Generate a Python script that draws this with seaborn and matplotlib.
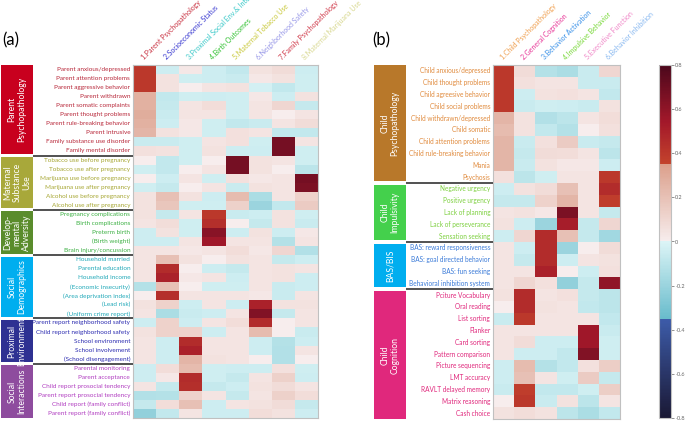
import matplotlib.pyplot as plt
import matplotlib.patches as mpatches
from matplotlib.colors import LinearSegmentedColormap
import numpy as np
import pandas as pd
import seaborn as sns

# ---- panel (a) data ----
a_headers = ["1.Parent Psychopathology", "2.Socioeconomic Status", "3.Proximal Social Env.& Inter.",
             "4.Birth Outcomes", "5.Maternal Tobacco Use", "6.Neighborhood Safety",
             "7.Family Psychopathology", "8.Maternal Marijuana Use"]
a_header_colors = ["#c83040", "#3838d0", "#38c8c8", "#30c030", "#c8c838", "#9898e8", "#d03848", "#d8d890"]

a_groups = ["Parent\nPsychopathology", "Maternal\nSubstance\nUse", "Develop-\nmental\nAdversity",
            "Social\nDemographics", "Proximal\nEnvironment", "Social\nInteractions"]
a_box_colors = ["#c8001e", "#a8a83a", "#5a8c2c", "#00aeef", "#2e3192", "#8e4c9e"]
a_text_colors = ["#b8283a", "#a6a632", "#3cb043", "#20a8b8", "#2b2bb0", "#b03cc0"]

a_parent_rows = ["Parent anxious/depressed", "Parent attention problems", "Parent aggressive behavior",
                 "Parent withdrawn", "Parent somatic complaints", "Parent thought problems",
                 "Parent rule-breaking behavior", "Parent intrusive", "Family substance use disorder",
                 "Family mental disorder"]
a_parent_vals = [[0.40, -0.05, 0.03, -0.05, -0.08, 0.05, 0.08, -0.05],
                 [0.40, 0.05, -0.04, -0.05, -0.06, 0.03, 0.05, -0.04],
                 [0.40, 0.05, 0.00, 0.04, 0.05, -0.03, -0.08, -0.04],
                 [0.27, -0.08, -0.04, -0.05, -0.04, 0.03, -0.05, 0.05],
                 [0.27, -0.07, 0.04, 0.07, -0.04, 0.04, 0.10, -0.07],
                 [0.29, -0.06, 0.04, 0.04, -0.04, 0.04, 0.00, 0.04],
                 [0.27, -0.05, 0.03, -0.04, -0.08, -0.06, 0.04, 0.08],
                 [0.25, 0.05, 0.03, -0.04, 0.06, 0.04, -0.08, -0.08],
                 [-0.06, -0.06, -0.04, 0.04, 0.06, -0.04, 0.68, 0.04],
                 [0.06, 0.05, -0.04, 0.05, -0.05, -0.05, 0.68, -0.04]]

a_maternal_rows = ["Tobacco use before pregnancy", "Tobacco use after pregnancy",
                   "Marijuana use before pregnancy", "Marijuana use after pregnancy",
                   "Alcohol use before pregnancy", "Alcohol use after pregnancy"]
a_maternal_vals = [[0.00, -0.08, -0.04, 0.00, 0.68, 0.05, 0.04, -0.04],
                   [-0.04, -0.08, 0.00, 0.04, 0.68, 0.05, 0.00, -0.10],
                   [0.00, -0.05, 0.04, -0.04, 0.06, 0.03, 0.04, 0.68],
                   [-0.04, -0.07, 0.00, 0.04, -0.06, 0.05, 0.04, 0.66],
                   [0.05, 0.20, 0.05, -0.05, 0.22, -0.15, 0.04, 0.12],
                   [0.05, 0.18, -0.04, -0.04, 0.13, -0.20, -0.08, 0.15]]

a_dev_rows = ["Pregnancy complications", "Birth complications", "Preterm birth",
              "(Birth weight)", "Brain injury/concussion"]
a_dev_vals = [[0.05, -0.07, 0.04, 0.40, -0.06, -0.05, 0.05, -0.04],
              [0.04, 0.07, -0.04, 0.44, 0.00, -0.07, 0.05, -0.06],
              [-0.05, 0.05, -0.04, 0.62, -0.05, 0.05, -0.05, 0.03],
              [-0.05, -0.05, 0.04, 0.55, 0.04, 0.04, -0.12, 0.04],
              [0.04, 0.04, 0.03, 0.04, 0.07, 0.03, 0.10, -0.13]]

a_demo_rows = ["Household married", "Parental education", "Household income",
               "(Economic insecurity)", "(Area deprivation index)", "(Lead risk)",
               "(Uniform crime report)"]
a_demo_vals = [[0.04, 0.20, 0.05, 0.00, 0.05, 0.04, -0.07, -0.05],
               [0.04, 0.45, 0.00, -0.05, -0.07, 0.04, 0.05, 0.04],
               [0.04, 0.50, 0.03, 0.04, -0.05, 0.04, 0.05, -0.05],
               [-0.12, 0.20, 0.00, -0.04, -0.04, 0.04, -0.06, -0.05],
               [0.00, 0.44, 0.04, 0.04, 0.04, 0.03, -0.06, 0.04],
               [0.05, 0.12, -0.05, 0.04, -0.05, 0.50, 0.05, 0.05],
               [0.04, -0.15, -0.06, -0.05, 0.04, 0.64, -0.07, 0.04]]

a_prox_rows = ["Parent report neighborhood safety", "Child report neighborhood safety",
               "School environment", "School involvement", "(School disengagement)"]
a_prox_vals = [[-0.05, 0.12, -0.05, 0.04, 0.07, 0.46, 0.00, 0.04],
               [0.05, 0.12, 0.12, -0.05, 0.04, 0.22, 0.00, -0.06],
               [0.04, -0.05, 0.45, 0.04, 0.04, -0.05, -0.12, -0.05],
               [0.04, -0.05, 0.50, 0.04, 0.04, -0.05, -0.13, 0.04],
               [0.04, -0.05, 0.25, 0.05, 0.04, 0.00, -0.13, 0.00]]

a_social_rows = ["Parental monitoring", "Parent acceptance", "Child report prosocial tendency",
                 "Parent report prosocial tendency", "Child report (family conflict)",
                 "Parent report (family conflict)"]
a_social_vals = [[-0.05, 0.07, 0.22, -0.04, -0.05, -0.05, 0.06, -0.04],
                 [-0.05, 0.03, 0.45, -0.04, -0.07, 0.04, 0.13, -0.05],
                 [0.04, -0.07, 0.44, -0.07, -0.05, 0.05, 0.08, 0.04],
                 [-0.13, -0.12, 0.12, 0.04, -0.07, 0.04, 0.13, 0.07],
                 [-0.07, 0.07, 0.20, -0.05, 0.04, 0.05, 0.08, -0.07],
                 [-0.22, -0.08, 0.04, -0.05, -0.05, 0.07, 0.05, -0.05]]

# ---- panel (b) data ----
b_headers = ["1.Child Psychopathology", "2.General Cognition", "3.Behavior Activation",
             "4.Impulsive Behavior", "5.Executive Function", "6.Behavior Inhibition"]
b_header_colors = ["#f0a050", "#e83898", "#3890e8", "#78d838", "#f088c8", "#88b8f0"]

b_groups = ["Child\nPsychopathology", "Child\nImpulsivity", "BAS/BIS", "Child\nCognition"]
b_box_colors = ["#b8782a", "#44d04c", "#00aeef", "#e0287c"]
b_text_colors = ["#e08a3c", "#7ed040", "#3a7ad8", "#e0287c"]

b_psych_rows = ["Child anxious/depressed", "Child thought problems", "Child agreesive behavior",
                "Child social problems", "Child withdrawn/depressed", "Child somatic",
                "Child attention problems", "Child rule-breaking behavior", "Mania", "Psychosis"]
b_psych_vals = [[0.40, 0.08, -0.12, -0.15, -0.06, 0.10],
                [0.40, 0.06, 0.04, 0.04, -0.06, -0.06],
                [0.40, -0.05, 0.05, 0.06, 0.04, -0.08],
                [0.40, -0.06, -0.04, -0.05, -0.06, 0.05],
                [0.25, 0.05, -0.13, -0.10, 0.04, 0.07],
                [0.22, 0.05, -0.08, -0.12, 0.00, 0.06],
                [0.25, -0.06, 0.06, 0.15, -0.06, -0.07],
                [0.25, -0.07, 0.08, 0.07, 0.04, -0.10],
                [0.25, -0.06, 0.05, 0.03, 0.03, -0.05],
                [0.06, -0.10, -0.04, 0.04, 0.04, 0.40]]

b_imp_rows = ["Negative urgency", "Positive urgency", "Lack of planning",
              "Lack of perseverance", "Sensation seeking"]
b_imp_vals = [[-0.05, 0.05, 0.08, 0.20, 0.04, 0.45],
              [-0.07, -0.07, 0.12, 0.25, 0.04, 0.38],
              [0.04, 0.05, 0.03, 0.66, 0.04, -0.07],
              [0.05, -0.05, -0.20, 0.52, -0.07, 0.10],
              [-0.05, 0.10, 0.45, 0.20, -0.07, -0.18]]

b_bas_rows = ["BAS: reward responsiveness", "BAS: goal directed behavior", "BAS: fun seeking",
              "Behavioral inhibition system"]
b_bas_vals = [[0.04, -0.05, 0.45, -0.20, 0.00, 0.08],
              [0.04, -0.07, 0.45, -0.05, 0.04, 0.05],
              [0.04, 0.04, 0.50, 0.00, -0.05, 0.06],
              [0.04, 0.10, 0.06, -0.22, -0.07, 0.60]]

b_cog_rows = ["Pciture Vocabulary", "Oral reading", "List sorting", "Flanker", "Card sorting",
              "Pattern comparison", "Picture sequencing", "LMT accuracy",
              "RAVLT delayed memory", "Matrix reasoning", "Cash choice"]
b_cog_vals = [[0.05, 0.45, 0.04, 0.06, -0.07, -0.10],
              [0.00, 0.45, 0.05, 0.04, -0.08, -0.10],
              [-0.06, 0.40, 0.04, 0.04, 0.04, -0.08],
              [0.04, 0.04, 0.04, 0.04, 0.55, -0.06],
              [0.04, 0.08, -0.05, -0.05, 0.55, -0.04],
              [0.04, -0.05, -0.05, -0.08, 0.64, -0.04],
              [-0.05, 0.22, -0.12, -0.08, 0.06, 0.14],
              [-0.05, 0.20, 0.04, -0.04, 0.15, -0.07],
              [-0.06, 0.38, -0.08, -0.08, -0.04, 0.14],
              [0.00, 0.40, -0.06, 0.05, -0.10, 0.04],
              [0.05, 0.07, 0.05, -0.10, -0.15, -0.08]]

cbar_ticks = [-0.8, -0.6, -0.4, -0.2, 0, 0.2, 0.4, 0.6, 0.8]

# stepped diverging colormap (jump at +/-0.35)
cmap = LinearSegmentedColormap.from_list("steps", [
    (0.0, "#1a1834"), (0.2811, "#3d5caa"), (0.2813, "#68bccc"),
    (0.499, "#dcf4f6"), (0.5, "#ffffff"), (0.501, "#f7eded"),
    (0.7186, "#dca08c"), (0.7188, "#c4442c"), (0.84, "#a3182a"), (1.0, "#4c081c")])

W, H = 685, 423


def px(x0, y0, x1, y1):
    return [x0 / W, 1 - y1 / H, (x1 - x0) / W, (y1 - y0) / H]


def draw_panel(fig, hm_box, side_box, box_x, headers, header_colors,
               groups, rows_list, vals_list, box_colors, text_colors, fs):
    labels = sum(rows_list, [])
    vals = np.vstack([np.array(v) for v in vals_list])
    df = pd.DataFrame(vals, index=labels, columns=headers)
    ax = fig.add_axes(px(*hm_box))
    sns.heatmap(df, ax=ax, cmap=cmap, vmin=-0.8, vmax=0.8, cbar=False,
                xticklabels=True, yticklabels=True)
    ax.tick_params(axis="y", length=0, pad=2, labelsize=fs)
    ax.tick_params(axis="x", top=True, labeltop=True, bottom=False, labelbottom=False,
                   length=0, pad=3, labelsize=5)
    ax.set_xticklabels(headers, rotation=45, ha="left", va="bottom", rotation_mode="anchor")
    for t, c in zip(ax.get_xticklabels(), header_colors):
        t.set_color(c)
    colors = sum([[c] * len(r) for c, r in zip(text_colors, rows_list)], [])
    for t, c in zip(ax.get_yticklabels(), colors):
        t.set_color(c)
    ax.set_xlabel("")
    ax.set_ylabel("")
    for s in ax.spines.values():
        s.set_visible(True)
        s.set_color("#c0c0c0")
        s.set_linewidth(0.8)

    # group boxes + separators
    n = len(labels)
    side = fig.add_axes(px(*side_box))
    side.set_xlim(side_box[0], side_box[2])
    side.set_ylim(n, 0)
    side.axis("off")
    start = 0
    for i, (g, r) in enumerate(zip(groups, rows_list)):
        end = start + len(r)
        top = start + (0.17 if i > 0 else 0)
        bot = end - (0.17 if i < len(groups) - 1 else 0)
        side.add_patch(mpatches.Rectangle((box_x[0], top), box_x[1] - box_x[0], bot - top,
                                          color=box_colors[i], lw=0))
        side.text((box_x[0] + box_x[1]) / 2, (top + bot) / 2, g, rotation=90, color="white",
                  ha="center", va="center", fontsize=6.2, linespacing=1.1)
        if i < len(groups) - 1:
            side.plot([box_x[1], side_box[2]], [end, end], color="#333333", lw=1.2,
                      solid_capstyle="butt")
        start = end
    return ax


fig = plt.figure(figsize=(6.85, 4.23), dpi=100)
plt.rcParams["font.family"] = ["Lato", "DejaVu Sans"]

draw_panel(fig, (133, 65, 318, 418), (0, 65, 133, 418), (1, 33),
           a_headers, a_header_colors, a_groups,
           [a_parent_rows, a_maternal_rows, a_dev_rows, a_demo_rows, a_prox_rows, a_social_rows],
           [a_parent_vals, a_maternal_vals, a_dev_vals, a_demo_vals, a_prox_vals, a_social_vals],
           a_box_colors, a_text_colors, 4.6)

ax_b = draw_panel(fig, (493, 65, 620, 419), (373, 65, 493, 419), (374, 406),
                  b_headers, b_header_colors, b_groups,
                  [b_psych_rows, b_imp_rows, b_bas_rows, b_cog_rows],
                  [b_psych_vals, b_imp_vals, b_bas_vals, b_cog_vals],
                  b_box_colors, b_text_colors, 4.7)

cax = fig.add_axes(px(659, 65, 671, 418))
cb = fig.colorbar(ax_b.collections[0], cax=cax)
cb.set_ticks(cbar_ticks)
cb.set_ticklabels(["-0.8", "-0.6", "-0.4", "-0.2", "0", "0.2", "0.4", "0.6", "0.8"])
cb.ax.tick_params(labelsize=4, labelcolor="#666666", length=2, width=0.5, color="#666666", pad=1)
cb.outline.set_edgecolor("#c0c0c0")
cb.outline.set_linewidth(0.8)

fig.text(2 / W, 1 - 40 / H, "(a)", fontsize=12, va="center", ha="left")
fig.text(372 / W, 1 - 40 / H, "(b)", fontsize=12, va="center", ha="left")

fig.savefig("out.png", dpi=100)
